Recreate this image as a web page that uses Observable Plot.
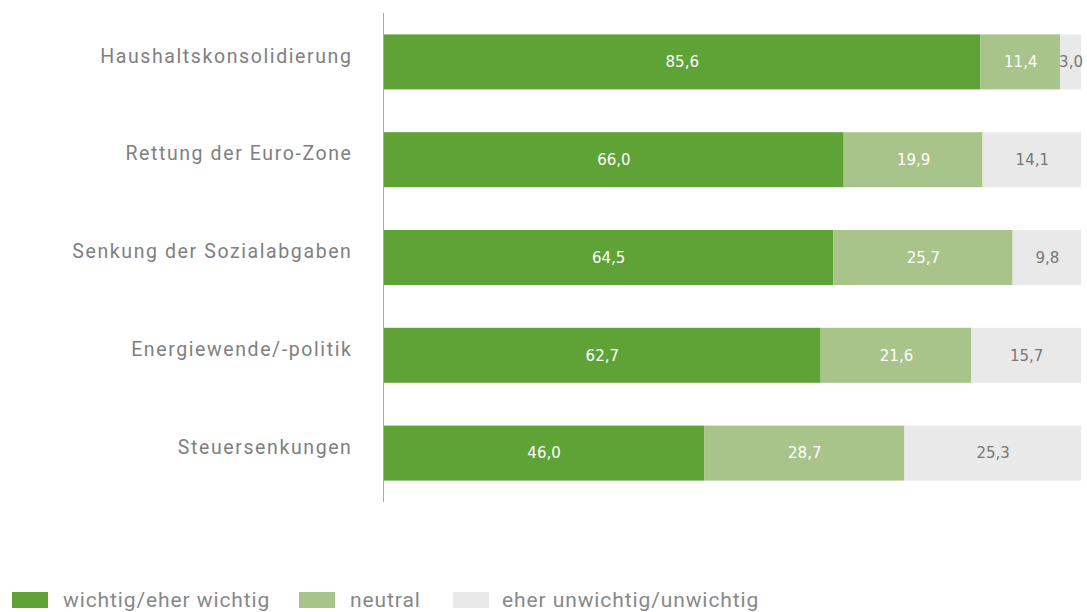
<!DOCTYPE html>
<html>
<head>
<meta charset="utf-8">
<script src="https://cdn.jsdelivr.net/npm/d3@7"></script>
<script src="https://cdn.jsdelivr.net/npm/@observablehq/plot@0.6"></script>
<style>
  body { margin: 0; background: #fff; font-family: Roboto, "Open Sans", sans-serif; }
  #wrap { position: relative; width: 1087px; height: 612px; }
  #legend { position: absolute; left: 0; top: 588px; width: 1087px; height: 24px; font-size: 21px; color: #888888; font-family: Roboto, sans-serif; letter-spacing: 0.9px; }
  #legend .sw { position: absolute; width: 36px; height: 16px; top: 4px; }
  #legend .tx { position: absolute; top: 0; line-height: 24px; white-space: nowrap; }
</style>
</head>
<body>
<div id="wrap">
  <div id="chart"></div>
  <div id="legend"></div>
</div>
<script>
const categories = ["Haushaltskonsolidierung", "Rettung der Euro-Zone", "Senkung der Sozialabgaben", "Energiewende/-politik", "Steuersenkungen"];
const seriesNames = ["wichtig/eher wichtig", "neutral", "eher unwichtig/unwichtig"];
const wichtig = [85.6, 66.0, 64.5, 62.7, 46.0];
const neutral = [11.4, 19.9, 25.7, 21.6, 28.7];
const unwichtig = [3.0, 14.1, 9.8, 15.7, 25.3];
const colors = ["#5fa337", "#a8c48a", "#e9e9e9"];
const labelColors = ["#ffffff", "#ffffff", "#777777"];

const seriesValues = [wichtig, neutral, unwichtig];
const data = [];
categories.forEach((c, i) => {
  seriesNames.forEach((s, j) => {
    data.push({category: c, series: s, value: seriesValues[j][i], order: j});
  });
});

const fmt = v => v.toFixed(1).replace(".", ",");

const chart = Plot.plot({
  width: 1087,
  height: 540,
  marginLeft: 383,
  marginRight: 6,
  marginTop: 13,
  marginBottom: 38,
  x: {domain: [0, 100], axis: null},
  y: {domain: categories, paddingInner: 0.4375, paddingOuter: 0.21875, round: false, axis: null},
  color: {domain: seriesNames, range: colors},
  marks: [
    Plot.barX(data, Plot.stackX({x: "value", y: "category", fill: "series", order: "order"})),
    Plot.text(data, Plot.stackX({
      x: "value", y: "category", order: "order",
      text: d => fmt(d.value),
      fill: d => labelColors[d.order],
      fontSize: 15,
      fontFamily: "DejaVu Sans, Verdana, sans-serif"
    })),
    Plot.axisY({tickSize: 0, tickPadding: 31, fontSize: 19.5, fill: "#808080", dy: -6, fontFamily: "Roboto, sans-serif", label: null}),
    Plot.ruleX([0], {stroke: "#aaaaaa", strokeWidth: 1})
  ]
});
chart.querySelectorAll("g[aria-label='y-axis tick label'] text").forEach(t => t.style.letterSpacing = "1.6px");
document.getElementById("chart").appendChild(chart);

const legend = document.getElementById("legend");
const swatchX = [12, 299, 453];
const textX = [63, 350, 502];
seriesNames.forEach((s, j) => {
  const sw = document.createElement("span");
  sw.className = "sw";
  sw.style.left = swatchX[j] + "px";
  sw.style.background = colors[j];
  const t = document.createElement("span");
  t.className = "tx";
  t.style.left = textX[j] + "px";
  t.textContent = s;
  legend.appendChild(sw);
  legend.appendChild(t);
});
</script>
</body>
</html>
